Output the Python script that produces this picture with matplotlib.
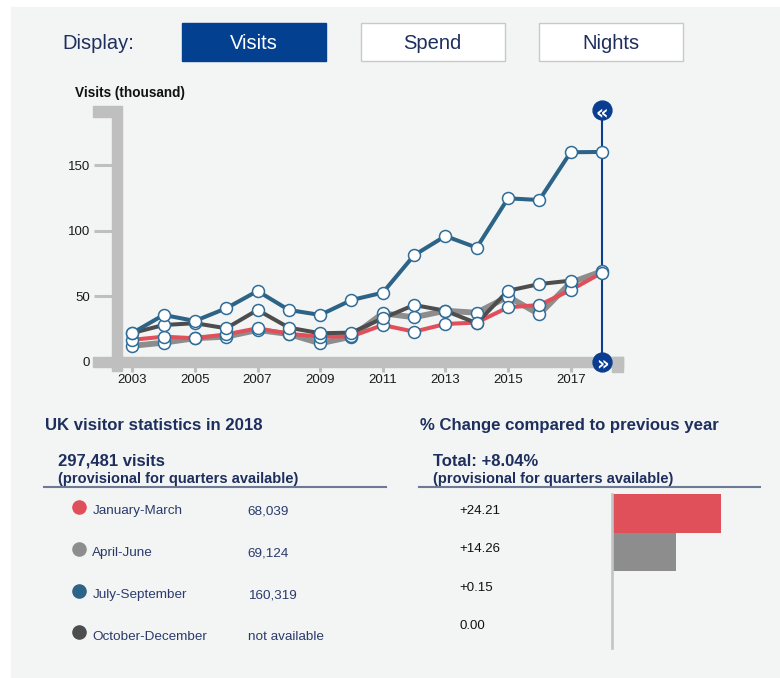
import matplotlib.pyplot as plt
import numpy as np
from matplotlib.patches import Rectangle

plt.rcParams['font.family'] = ['Liberation Sans', 'DejaVu Sans']

# data (thousand visits per quarter)
years = np.arange(2003, 2019)
jan_mar = [16.8, 19.2, 18.0, 21.0, 25.6, 21.4, 19.2, 19.4, 28.1, 23.0, 28.9, 30.0, 41.6, 43.4, 54.78, 68.039]
apr_jun = [12.2, 14.6, 18.0, 19.2, 24.3, 21.2, 14.1, 19.2, 37.0, 34.0, 39.0, 37.5, 49.8, 36.3, 60.50, 69.124]
jul_sep = [22.0, 35.8, 31.2, 40.9, 54.1, 39.6, 35.8, 47.2, 52.8, 81.4, 96.1, 87.2, 124.9, 123.6, 160.08, 160.319]
oct_dec = [22.0, 28.1, 29.5, 25.6, 39.6, 26.1, 21.8, 22.3, 33.2, 43.4, 39.0, 29.5, 54.3, 59.4, 62.0, np.nan]

quarters = ['January-March', 'April-June', 'July-September', 'October-December']
quarter_visits = ['68,039', '69,124', '160,319', 'not available']
pct_change = [24.21, 14.26, 0.15, 0.00]
total_visits = '297,481'
total_change = 8.04
buttons = ['Visits', 'Spend', 'Nights']

red = '#e0505a'
grey = '#8e8d8e'
blue = '#2c6387'
dark = '#4d4d4d'
colors = [red, grey, blue, dark]
navy = '#1e2f5e'
axis_grey = '#bfbfbf'

W, H = 780, 678
fig = plt.figure(figsize=(W / 100, H / 100), dpi=100, facecolor='white')


def add_px_axes(left, top, right, bottom):
    return fig.add_axes([left / W, 1 - bottom / H, (right - left) / W, (bottom - top) / H])


# background / decoration layer in pixel coordinates
bg = add_px_axes(0, 0, W, H)
bg.set_xlim(0, W)
bg.set_ylim(H, 0)
bg.axis('off')
bg.add_patch(Rectangle((11, 7), W - 11, H - 7, color='#f3f5f4', zorder=0))

# display buttons
bg.text(62, 49, 'Display:', fontsize=14.5, color=navy, va='baseline')
for i, name in enumerate(buttons):
    x0 = 182 + i * 178.5
    active = i == 0
    bg.add_patch(Rectangle((x0, 23.3), 144, 37.4, fc='#03408f' if active else 'white',
                           ec='#03408f' if active else '#c9c9c9', lw=1, zorder=1))
    bg.text(x0 + 72, 49, name, fontsize=14.5, ha='center', va='baseline',
            color='white' if active else navy, zorder=2)

# heavy grey axis frame
bg.add_patch(Rectangle((111.7, 105.7), 10.5, 265, color=axis_grey, zorder=1))
bg.add_patch(Rectangle((93.3, 105.7), 18.4, 11.3, color=axis_grey, zorder=1))
bg.add_patch(Rectangle((93.3, 356.7), 529.4, 10.5, color=axis_grey, zorder=1))
bg.add_patch(Rectangle((611.7, 356.7), 11, 15, color=axis_grey, zorder=1))
bg.text(75, 97, 'Visits (thousand)', fontsize=9.8, fontweight='bold', color='#111111', va='baseline')

# line chart
ax = add_px_axes(111.7, 97, 622.7, 367)
ax.set_facecolor('none')
ax.set_xlim(2002.342, 2018.663)
ax.set_ylim(-3.97, 202.3)
for s in ax.spines.values():
    s.set_visible(False)
ax.set_yticks([0, 50, 100, 150])
ax.set_xticks(years[::2])
ax.tick_params(axis='y', length=13.2, width=2.2, color=axis_grey, pad=2.5, labelsize=9.5, labelcolor='#1a1a1a')
ax.tick_params(axis='x', length=3.6, width=2.2, color=axis_grey, pad=1.5, labelsize=9.5, labelcolor='#1a1a1a')

ax.plot(years, apr_jun, color=grey, lw=4.2, zorder=2)
ax.plot(years, jan_mar, color=red, lw=2.9, zorder=3)
ax.plot(years, oct_dec, color=dark, lw=2.9, zorder=4)
ax.plot(years, jul_sep, color=blue, lw=2.9, zorder=5)

# year slider
ax.vlines(years[-1], 0, 192, color='#0d3f8f', lw=1.5, zorder=6)
for series in [apr_jun, jan_mar, oct_dec, jul_sep]:
    ax.plot(years, series, 'o', ms=8.6, mfc='white', mec='#2f6c98', mew=1.1, zorder=7, clip_on=False)
ax.plot([years[-1], years[-1]], [0, 192], 'o', ms=13.6, color='#0a3d8f', zorder=8, clip_on=False)
ax.text(years[-1], 192, '«', color='white', fontsize=14, fontweight='bold', ha='center', va='center_baseline', zorder=9,
        family='DejaVu Sans')
ax.text(years[-1], 0, '»', color='white', fontsize=14, fontweight='bold', ha='center', va='center_baseline', zorder=9,
        family='DejaVu Sans')

# left summary
bg.text(45, 429.7, 'UK visitor statistics in 2018', fontsize=12.1, fontweight='bold', color=navy)
bg.text(58.3, 466, total_visits + ' visits', fontsize=12, fontweight='bold', color=navy)
bg.text(58.3, 483, '(provisional for quarters available)', fontsize=10.5, fontweight='bold', color=navy)
bg.plot([44.3, 385.7], [487.3, 487.3], color='#6d7a95', lw=1.5)
for i, (q, v) in enumerate(zip(quarters, quarter_visits)):
    y = 506.7 + i * 41.9
    bg.scatter(79, y, s=90, color=colors[i], zorder=3)
    bg.text(92.3, y + 7.5, q, fontsize=9.7, color='#2b3a6b')
    bg.text(247.7, y + 7.5, v, fontsize=9.7, color='#2b3a6b')

# right summary
bg.text(420, 429.7, '% Change compared to previous year', fontsize=12.1, fontweight='bold', color=navy)
bg.text(433.3, 466, 'Total: %+.2f%%' % total_change, fontsize=12, fontweight='bold', color=navy)
bg.text(433.3, 483, '(provisional for quarters available)', fontsize=10.5, fontweight='bold', color=navy)
bg.plot([419.3, 760], [487.3, 487.3], color='#6d7a95', lw=1.5)

bax = add_px_axes(612, 494.3, 760, 648.3)
bax.set_facecolor('none')
bax.barh(range(len(pct_change)), pct_change, height=1.0, color=colors)
bax.set_xlim(0, 32.96)
bax.set_ylim(len(pct_change) - 0.5, -0.5)
bax.set_xticks([])
bax.set_yticks([])
for side in ['top', 'right', 'bottom']:
    bax.spines[side].set_visible(False)
bax.spines['left'].set_color('#c4c4c4')
bax.spines['left'].set_linewidth(1.9)
for i, v in enumerate(pct_change):
    label = '%+.2f' % v if v != 0 else '%.2f' % v
    bax.text(-34.0, i, label, fontsize=9.5, color='#111111', va='baseline', clip_on=False)

plt.savefig('out.png', dpi=100, facecolor=fig.get_facecolor())
